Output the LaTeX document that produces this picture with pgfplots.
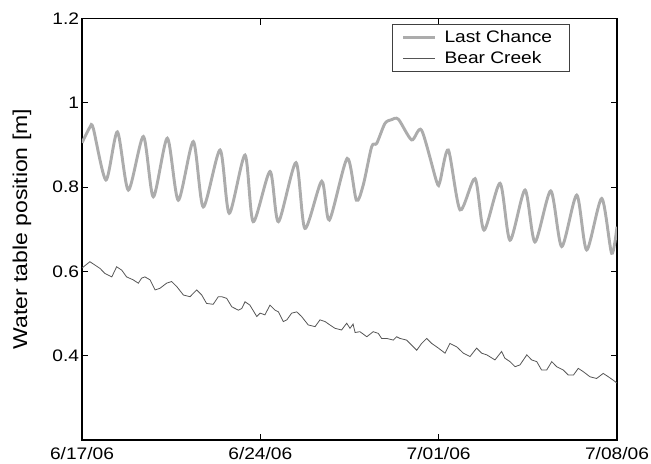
\documentclass[border=0pt]{standalone}
\usepackage{fontspec}
\setmainfont{Liberation Sans}[FakeStretch=1.15]
\usepackage{pgfplots}
\pgfplotsset{compat=1.18}
\definecolor{lcgray}{RGB}{172,172,172}
\definecolor{bcgray}{RGB}{85,85,85}
\begin{document}
\begin{tikzpicture}
\path[use as bounding box] (-61.5pt,-18pt) rectangle (426.75pt,330pt);
\begin{axis}[
  scale only axis, width=401.25pt, height=316.1pt,
  xmin=0, xmax=21, ymin=0.2, ymax=1.2,
  xtick={0,7,14,21}, xticklabels={6/17/06,6/24/06,7/01/06,7/08/06},
  ytick={0.4,0.6,0.8,1,1.2},
  tick align=inside, major tick length=4.5pt,
  axis line style={line width=0.9pt},
  tick style={black, line width=0.8pt},
  ticklabel style={font=\fontsize{12.5}{14}\selectfont},
  /pgf/number format/assume math mode=true,
  yticklabel style={inner sep=2pt},
  xticklabel style={yshift=-2pt},
  every axis y label/.style={at={(axis description cs:-0.112,0.5)}, rotate=90, anchor=center, font=\fontsize{15}{17}\selectfont},
  ylabel={Water table position [m]},
  legend style={at={(rel axis cs:0.912,0.987)}, anchor=north east, draw=black!75, line width=0.6pt,
    font=\fontsize{12.5}{14}\selectfont, cells={anchor=west}, inner xsep=7pt, inner ysep=2.5pt,
    row sep=1.5pt, nodes={inner xsep=6pt}},
  legend image code/.code={\draw[#1] (0pt,0pt) -- (24pt,0pt);},
]
\addplot[lcgray, line width=2.2pt, smooth, tension=0.45] coordinates {
(0.00,0.905) (0.31,0.942) (0.44,0.940) (0.94,0.817) (1.39,0.931) (1.82,0.793)
(2.41,0.920) (2.80,0.777) (3.35,0.916) (3.78,0.769) (4.37,0.908) (4.76,0.753)
(5.42,0.888) (5.78,0.738) (6.40,0.876) (6.72,0.718) (7.38,0.837) (7.71,0.718)
(8.40,0.858) (8.75,0.702) (9.41,0.814) (9.71,0.722) (10.41,0.868) (10.77,0.769)
(11.04,0.805) (11.37,0.896) (11.57,0.904) (11.89,0.951) (12.15,0.960) (12.42,0.961)
(12.94,0.912) (13.33,0.935) (13.92,0.813) (14.05,0.813) (14.38,0.888) (14.84,0.746)
(15.43,0.820) (15.78,0.698) (16.41,0.809) (16.80,0.674) (17.39,0.793) (17.78,0.670)
(18.40,0.791) (18.83,0.659) (19.42,0.781) (19.81,0.651) (20.40,0.773) (20.79,0.643)
(21.00,0.706)
};
\addlegendentry{Last Chance}
\addplot[bcgray, line width=0.6pt] coordinates {
(0.00,0.608) (0.31,0.623) (0.51,0.615) (0.71,0.607) (0.90,0.595) (1.17,0.587)
(1.36,0.611) (1.56,0.603) (1.75,0.587) (2.01,0.580) (2.21,0.572) (2.34,0.584)
(2.47,0.587) (2.67,0.580) (2.87,0.556) (3.06,0.560) (3.32,0.572) (3.52,0.576)
(3.72,0.564) (3.98,0.544) (4.24,0.540) (4.50,0.556) (4.70,0.544) (4.89,0.524)
(5.15,0.522) (5.35,0.540) (5.48,0.540) (5.68,0.536) (5.88,0.516) (6.14,0.508)
(6.27,0.512) (6.40,0.528) (6.59,0.520) (6.86,0.493) (6.99,0.501) (7.18,0.497)
(7.38,0.520) (7.58,0.508) (7.71,0.504) (7.90,0.481) (8.04,0.485) (8.23,0.501)
(8.43,0.504) (8.62,0.493) (8.88,0.473) (9.15,0.469) (9.34,0.485) (9.54,0.481)
(9.73,0.473) (9.93,0.465) (10.19,0.461) (10.39,0.477) (10.52,0.465) (10.64,0.475)
(10.72,0.455) (10.91,0.457) (11.18,0.445) (11.43,0.457) (11.63,0.453) (11.76,0.441)
(11.96,0.441) (12.22,0.437) (12.35,0.445) (12.48,0.441) (12.74,0.437) (12.94,0.425)
(13.14,0.413) (13.33,0.429) (13.53,0.441) (13.73,0.429) (13.99,0.418) (14.25,0.406)
(14.44,0.429) (14.71,0.421) (14.97,0.406) (15.23,0.398) (15.49,0.418) (15.69,0.406)
(15.89,0.402) (16.21,0.390) (16.47,0.410) (16.60,0.394) (16.80,0.386) (17.00,0.374)
(17.19,0.378) (17.46,0.402) (17.65,0.390) (17.85,0.386) (18.04,0.366) (18.24,0.366)
(18.44,0.386) (18.63,0.374) (18.89,0.366) (19.09,0.354) (19.29,0.354) (19.48,0.370)
(19.68,0.362) (19.94,0.350) (20.20,0.346) (20.46,0.358) (20.66,0.350) (20.85,0.342)
(21.00,0.335)
};
\addlegendentry{Bear Creek}
\end{axis}
\end{tikzpicture}
\end{document}
